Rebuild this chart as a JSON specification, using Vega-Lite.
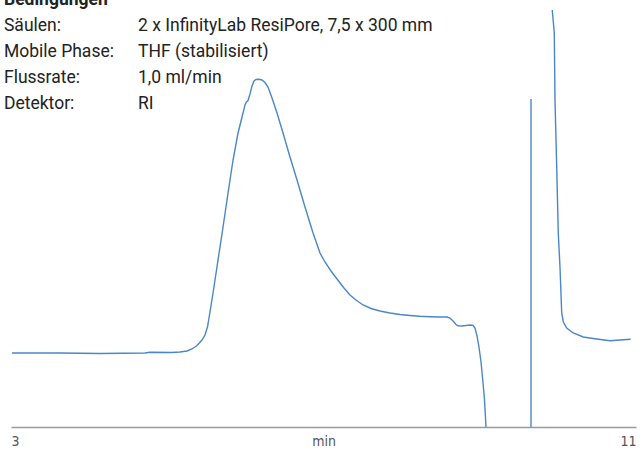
{
  "$schema": "https://vega.github.io/schema/vega-lite/v6.json",
  "width": 625,
  "height": 417,
  "autosize": {"type": "none"},
  "padding": {"left": 11, "top": 10, "right": 6, "bottom": 24},
  "background": "white",
  "config": {"view": {"stroke": null}, "font": "Roboto"},
  "datasets": {
    "chromatogram": [
      {"trace": "a", "t": 3.013, "signal": 74},
      {"trace": "a", "t": 3.627, "signal": 74},
      {"trace": "a", "t": 4.139, "signal": 73.5},
      {"trace": "a", "t": 4.715, "signal": 74},
      {"trace": "a", "t": 4.779, "signal": 74.7},
      {"trace": "a", "t": 5.061, "signal": 74.5},
      {"trace": "a", "t": 5.163, "signal": 75},
      {"trace": "a", "t": 5.253, "signal": 76},
      {"trace": "a", "t": 5.317, "signal": 78},
      {"trace": "a", "t": 5.381, "signal": 81.5},
      {"trace": "a", "t": 5.445, "signal": 87},
      {"trace": "a", "t": 5.483, "signal": 92},
      {"trace": "a", "t": 5.515, "signal": 100},
      {"trace": "a", "t": 5.547, "signal": 115},
      {"trace": "a", "t": 5.586, "signal": 134},
      {"trace": "a", "t": 5.65, "signal": 167},
      {"trace": "a", "t": 5.714, "signal": 200},
      {"trace": "a", "t": 5.778, "signal": 234},
      {"trace": "a", "t": 5.842, "signal": 267},
      {"trace": "a", "t": 5.906, "signal": 294},
      {"trace": "a", "t": 5.957, "signal": 310},
      {"trace": "a", "t": 5.995, "signal": 322},
      {"trace": "a", "t": 6.014, "signal": 325},
      {"trace": "a", "t": 6.034, "signal": 326.5},
      {"trace": "a", "t": 6.059, "signal": 333},
      {"trace": "a", "t": 6.085, "signal": 341},
      {"trace": "a", "t": 6.11, "signal": 346},
      {"trace": "a", "t": 6.136, "signal": 347.5},
      {"trace": "a", "t": 6.174, "signal": 347.7},
      {"trace": "a", "t": 6.213, "signal": 347},
      {"trace": "a", "t": 6.251, "signal": 344.5},
      {"trace": "a", "t": 6.29, "signal": 340},
      {"trace": "a", "t": 6.341, "signal": 329},
      {"trace": "a", "t": 6.405, "signal": 314},
      {"trace": "a", "t": 6.482, "signal": 294},
      {"trace": "a", "t": 6.571, "signal": 270},
      {"trace": "a", "t": 6.661, "signal": 247},
      {"trace": "a", "t": 6.763, "signal": 220},
      {"trace": "a", "t": 6.866, "signal": 194},
      {"trace": "a", "t": 6.955, "signal": 174},
      {"trace": "a", "t": 7.019, "signal": 165},
      {"trace": "a", "t": 7.096, "signal": 156},
      {"trace": "a", "t": 7.173, "signal": 148},
      {"trace": "a", "t": 7.262, "signal": 139},
      {"trace": "a", "t": 7.339, "signal": 132},
      {"trace": "a", "t": 7.416, "signal": 127},
      {"trace": "a", "t": 7.506, "signal": 122},
      {"trace": "a", "t": 7.608, "signal": 118.5},
      {"trace": "a", "t": 7.723, "signal": 116},
      {"trace": "a", "t": 7.851, "signal": 114},
      {"trace": "a", "t": 7.979, "signal": 112.5},
      {"trace": "a", "t": 8.107, "signal": 111.5},
      {"trace": "a", "t": 8.235, "signal": 110.7},
      {"trace": "a", "t": 8.363, "signal": 110.3},
      {"trace": "a", "t": 8.491, "signal": 110},
      {"trace": "a", "t": 8.581, "signal": 110},
      {"trace": "a", "t": 8.619, "signal": 109},
      {"trace": "a", "t": 8.658, "signal": 106},
      {"trace": "a", "t": 8.696, "signal": 102.5},
      {"trace": "a", "t": 8.722, "signal": 101.3},
      {"trace": "a", "t": 8.773, "signal": 101},
      {"trace": "a", "t": 8.824, "signal": 101.5},
      {"trace": "a", "t": 8.875, "signal": 102},
      {"trace": "a", "t": 8.914, "signal": 101.5},
      {"trace": "a", "t": 8.939, "signal": 99},
      {"trace": "a", "t": 8.965, "signal": 91},
      {"trace": "a", "t": 8.99, "signal": 80},
      {"trace": "a", "t": 9.016, "signal": 65},
      {"trace": "a", "t": 9.042, "signal": 44},
      {"trace": "a", "t": 9.061, "signal": 27},
      {"trace": "a", "t": 9.08, "signal": 0},
      {"trace": "a", "t": 9.106, "signal": -33},
      {"trace": "b", "t": 9.656, "signal": 328},
      {"trace": "b", "t": 9.656, "signal": -33},
      {"trace": "c", "t": 9.926, "signal": 425},
      {"trace": "c", "t": 9.928, "signal": 417},
      {"trace": "c", "t": 9.954, "signal": 394},
      {"trace": "c", "t": 9.963, "signal": 327},
      {"trace": "c", "t": 9.985, "signal": 260},
      {"trace": "c", "t": 10.005, "signal": 194},
      {"trace": "c", "t": 10.027, "signal": 160},
      {"trace": "c", "t": 10.049, "signal": 114},
      {"trace": "c", "t": 10.07, "signal": 105},
      {"trace": "c", "t": 10.113, "signal": 99},
      {"trace": "c", "t": 10.197, "signal": 94},
      {"trace": "c", "t": 10.325, "signal": 90},
      {"trace": "c", "t": 10.497, "signal": 88},
      {"trace": "c", "t": 10.667, "signal": 86.3},
      {"trace": "c", "t": 10.795, "signal": 87},
      {"trace": "c", "t": 10.932, "signal": 87.7}
    ],
    "conditions": [
      {"row": 0, "label": "Bedingungen", "value": ""},
      {"row": 1, "label": "Säulen:", "value": "2 x InfinityLab ResiPore, 7,5 x 300 mm"},
      {"row": 2, "label": "Mobile Phase:", "value": "THF (stabilisiert)"},
      {"row": 3, "label": "Flussrate:", "value": "1,0 ml/min"},
      {"row": 4, "label": "Detektor:", "value": "RI"}
    ]
  },
  "layer": [
    {
      "data": {"name": "chromatogram"},
      "mark": {"type": "line", "color": "#4a86c8", "strokeWidth": 1.4, "clip": true},
      "encoding": {
        "x": {
          "field": "t",
          "type": "quantitative",
          "scale": {"domain": [3, 11], "nice": false, "zero": false},
          "axis": {
            "values": [3, 11],
            "format": "d",
            "title": "min",
            "ticks": false,
            "grid": false,
            "labelFlush": true,
            "labelPadding": 7,
            "labelFont": "DejaVu Sans Condensed",
            "labelFontSize": 14,
            "labelColor": "#555555",
            "domainColor": "#9a9a9a",
            "domainWidth": 1.5,
            "titleFont": "DejaVu Sans Condensed",
            "titleFontSize": 14,
            "titleFontWeight": "normal",
            "titleColor": "#555555",
            "titleY": 7,
            "titleBaseline": "top"
          }
        },
        "y": {
          "field": "signal",
          "type": "quantitative",
          "scale": {"domain": [0, 417], "nice": false, "zero": false},
          "axis": null
        },
        "detail": {"field": "trace"}
      }
    },
    {
      "data": {"name": "conditions"},
      "layer": [
        {
          "transform": [{"filter": "datum.row == 0"}],
          "mark": {"type": "text", "align": "left", "baseline": "alphabetic", "fontSize": 17.5, "fontWeight": "bold", "color": "#222222"},
          "encoding": {
            "x": {"datum": 2.91, "type": "quantitative"},
            "y": {"field": "row", "type": "quantitative", "scale": {"domain": [0, 4], "range": [-5, 98.6]}, "axis": null},
            "text": {"field": "label"}
          }
        },
        {
          "transform": [{"filter": "datum.row > 0"}],
          "mark": {"type": "text", "align": "left", "baseline": "alphabetic", "fontSize": 17.5, "color": "#222222"},
          "encoding": {
            "x": {"datum": 2.91, "type": "quantitative"},
            "y": {"field": "row", "type": "quantitative", "scale": {"domain": [0, 4], "range": [-5, 98.6]}, "axis": null},
            "text": {"field": "label"}
          }
        },
        {
          "transform": [{"filter": "datum.row > 0"}],
          "mark": {"type": "text", "align": "left", "baseline": "alphabetic", "fontSize": 17.5, "color": "#222222"},
          "encoding": {
            "x": {"datum": 4.626, "type": "quantitative"},
            "y": {"field": "row", "type": "quantitative", "scale": {"domain": [0, 4], "range": [-5, 98.6]}, "axis": null},
            "text": {"field": "value"}
          }
        }
      ]
    }
  ],
  "resolve": {"scale": {"y": "independent"}}
}
